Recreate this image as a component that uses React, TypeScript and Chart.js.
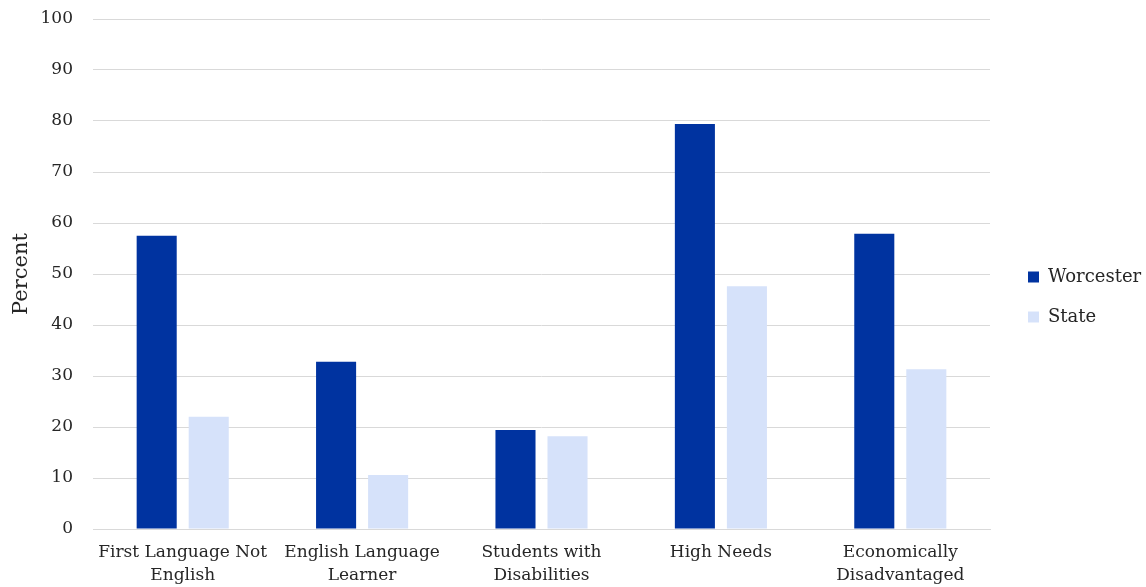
import React, { useEffect, useRef } from "react";
import { Chart, registerables } from "chart.js";

Chart.register(...registerables);

const categories: string[][] = [
  ["First Language Not", "English"],
  ["English Language", "Learner"],
  ["Students with", "Disabilities"],
  ["High Needs"],
  ["Economically", "Disadvantaged"],
];
const worcester = [57.5, 32.8, 19.4, 79.4, 57.9];
const state = [22.0, 10.6, 18.2, 47.6, 31.3];
const seriesNames = ["Worcester", "State"];

const FONT = "'DejaVu Serif', serif";
const TEXT = "#262626";

const legendTweak = {
  id: "legendTweak",
  afterInit(chart: any) {
    const lg = chart.legend;
    if (!lg) return;
    const origFit = lg.fit.bind(lg);
    lg.fit = function () {
      origFit();
      this.width = 156;
    };
    const origDraw = lg.draw.bind(lg);
    lg.draw = function () {
      const ctx = chart.ctx;
      ctx.save();
      ctx.translate(16, -6);
      origDraw();
      ctx.restore();
    };
  },
};

export default function App() {
  const ref = useRef<HTMLCanvasElement | null>(null);
  useEffect(() => {
    if (!ref.current) return;
    const chart = new Chart(ref.current, {
      type: "bar",
      data: {
        labels: categories,
        datasets: [
          { label: seriesNames[0], data: worcester, backgroundColor: "#0033A0", categoryPercentage: 0.58, barPercentage: 0.77 },
          { label: seriesNames[1], data: state, backgroundColor: "#D6E2FA", categoryPercentage: 0.58, barPercentage: 0.77 },
        ],
      },
      plugins: [legendTweak],
      options: {
        animation: false,
        responsive: false,
        layout: { padding: { top: 19, right: 0, left: 5, bottom: 0 } },
        plugins: {
          legend: {
            position: "right",
            align: "center",
            labels: {
              boxWidth: 11,
              boxHeight: 11,
              padding: 22,
              color: TEXT,
              font: { family: FONT, size: 18 },
            },
          },
          tooltip: { enabled: false },
        },
        scales: {
          x: {
            grid: { display: false, drawTicks: false },
            border: { color: "#d9d9d9", width: 1 },
            ticks: { color: TEXT, font: { family: FONT, size: 17, lineHeight: 1.35 }, padding: 12, maxRotation: 0, autoSkip: false },
            afterFit(scale: any) {
              scale.height = 58;
              scale.paddingLeft = 0;
              scale.paddingRight = 0;
            },
          },
          y: {
            min: 0,
            max: 100,
            ticks: { stepSize: 10, color: TEXT, font: { family: FONT, size: 17 }, padding: 20 },
            grid: { color: "#d9d9d9", drawTicks: false },
            border: { display: false },
            title: { display: true, text: "Percent", color: TEXT, font: { family: FONT, size: 21 }, padding: { top: 4, bottom: 4 } },
            afterFit(scale: any) {
              scale.width = 88;
              scale.paddingTop = 0;
              scale.paddingBottom = 0;
            },
          },
        },
      },
    });
    return () => chart.destroy();
  }, []);
  return (
    <div style={{ position: "fixed", left: 0, top: 0, width: 1146, height: 587, background: "#fff" }}>
      <canvas ref={ref} width={1146} height={587} />
    </div>
  );
}
